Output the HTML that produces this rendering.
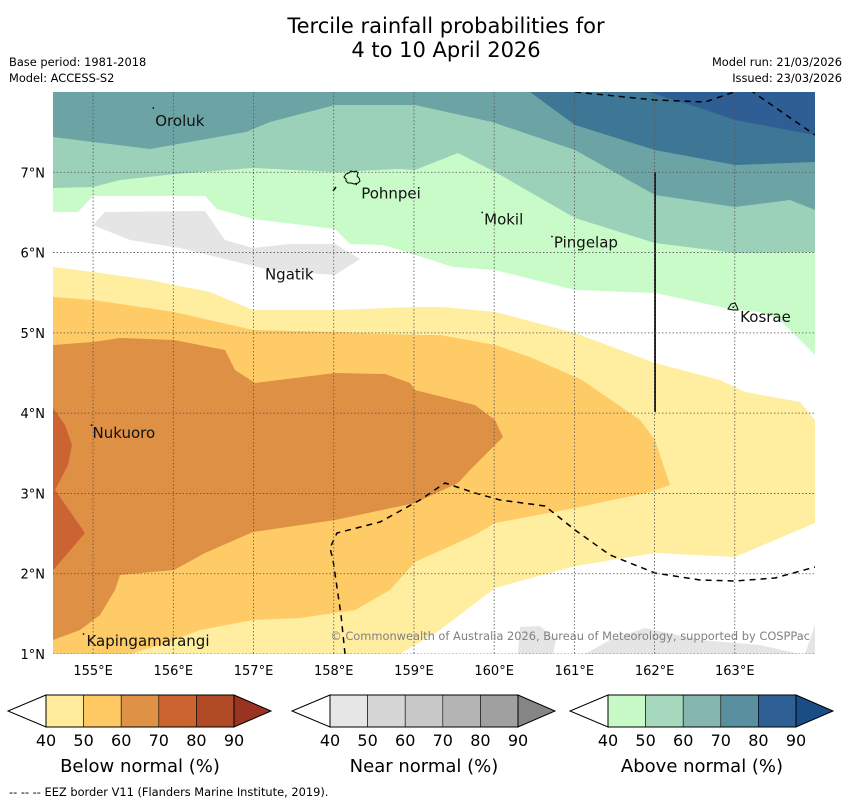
<!DOCTYPE html>
<html><head><meta charset="utf-8"><style>
html,body{margin:0;padding:0;background:#fff;}
body{width:850px;height:804px;overflow:hidden;font-family:"Liberation Sans","DejaVu Sans",sans-serif;}
text{font-family:"DejaVu Sans","Liberation Sans",sans-serif;}
</style></head><body>
<svg id="chart" width="850" height="804" viewBox="0 0 850 804" xmlns="http://www.w3.org/2000/svg">
<text x="446" y="33" font-size="21" text-anchor="middle" fill="#000">Tercile rainfall probabilities for</text>
<text x="446" y="57" font-size="21" text-anchor="middle" fill="#000">4 to 10 April 2026</text>
<text x="9" y="66" font-size="11.4">Base period: 1981-2018</text>
<text x="9" y="82" font-size="11.4">Model: ACCESS-S2</text>
<text x="842" y="66" font-size="11.4" text-anchor="end">Model run: 21/03/2026</text>
<text x="842" y="82" font-size="11.4" text-anchor="end">Issued: 23/03/2026</text>
<defs><clipPath id="mapclip"><rect x="53" y="92" width="762" height="562"/></clipPath></defs>
<g id="map" clip-path="url(#mapclip)"></g>
<g id="overlay"></g>
<g id="legend"></g>
<text x="9" y="796" font-size="11.4">--  --  -- EEZ border V11 (Flanders Marine Institute, 2019).</text>
</svg>
<script>
// axis data
const lonTicks = [155,156,157,158,159,160,161,162,163];
const latTicks = [7,6,5,4,3,2,1];
const lonMin = 154.5, lonMax = 164.0, latMin = 1.0, latMax = 8.0;
const legendTicks = [40,50,60,70,80,90];
const belowColors = ["#ffeb9b","#fec863","#df9146","#cc6431","#b04a25"];
const nearColors = ["#e6e6e6","#d6d6d6","#c8c8c8","#b4b4b4","#a0a0a0"];
const aboveColors = ["#c8fac8","#a6d8bd","#85b6b0","#5a8fa0","#2f6095"];
const islands = [
 {name:"Oroluk",lon:155.75,lat:7.8,dx:2,dy:18},
 {name:"Pohnpei",lon:158.28,lat:6.85,dx:5,dy:14},
 {name:"Mokil",lon:159.85,lat:6.5,dx:2,dy:12},
 {name:"Pingelap",lon:160.72,lat:6.2,dx:2,dy:11},
 {name:"Ngatik",lon:157.18,lat:5.8,dx:-3,dy:11},
 {name:"Kosrae",lon:162.98,lat:5.32,dx:7,dy:15},
 {name:"Nukuoro",lon:154.98,lat:3.85,dx:1,dy:13},
 {name:"Kapingamarangi",lon:154.88,lat:1.25,dx:3,dy:12}
];
const X0=53, X1=815, Y0=92, Y1=654;
function x(lon){return X0+(lon-lonMin)/(lonMax-lonMin)*(X1-X0);}
function y(lat){return Y0+(latMax-lat)/(latMax-latMin)*(Y1-Y0);}
const NS="http://www.w3.org/2000/svg";
function mk(tag,attrs,parent){const e=document.createElementNS(NS,tag);for(const k in attrs)e.setAttribute(k,attrs[k]);parent.appendChild(e);return e;}
const map=document.getElementById('map'), ov=document.getElementById('overlay'), lg=document.getElementById('legend');

// contour regions (map pixel outlines)
const regions=[
 ["above-40","#c9fbc9","53,92 815,92 815,355 780,320 760,312 735,310 655,293 575,290 495,270 453,267 400,250 383,245 350,244 335,229 253,219 217,209 205,196 93,196 78,212 53,212"],
 ["above-50","#9cd1b9","53,92 815,92 815,252 735,253 655,243 575,218 495,172 458,153 415,170 400,169 335,172 253,168 176,174 120,180 93,187 53,188"],
 ["above-60","#6ca3a5","53,92 815,92 815,210 790,200 735,207 655,195 575,150 492,122 415,105 335,105 270,122 246,132 150,149 93,142 53,137"],
 ["above-70","#3d7795","530,92 815,92 815,162 735,165 655,150 575,125"],
 ["above-80","#2e5e94","648,92 815,92 815,135 735,120 700,108"],
 ["near-40","#e5e5e5","93,225 105,212 205,211 225,240 253,248 290,244 335,244 360,259 335,275 270,270 180,248 130,240"],
 ["near-40-s1","#e5e5e5","518,654 520,627 540,626 556,640 553,654"],
 ["near-40-s2","#e5e5e5","585,654 610,640 645,628 700,640 760,645 800,654"],
 ["near-40-s3","#e5e5e5","805,654 815,625 815,654"],
 ["below-40","#ffeda0","53,267 93,272 150,280 174,285 210,292 253,310 335,310 415,307 443,307 495,312 575,333 655,363 720,380 745,392 800,402 815,420 815,523 775,540 735,557 655,553 575,566 495,588 440,630 400,654 53,654"],
 ["below-50","#fecb66","53,297 93,300 174,312 253,330 335,332 415,335 440,335 495,345 530,357 582,380 640,420 655,440 665,470 670,485 650,492 575,508 495,523 475,535 415,562 390,590 355,610 300,618 253,620 200,630 160,645 130,654 53,654"],
 ["below-60","#de9044","53,345 93,342 120,338 174,340 225,350 235,370 255,383 335,373 385,374 410,383 415,390 475,405 495,420 503,437 492,448 470,470 458,483 415,503 335,520 253,532 205,553 174,570 120,575 115,590 100,615 80,630 53,640"],
 ["below-70","#cb6332","53,408 65,425 72,445 68,465 55,490 85,533 55,568 53,570"]
];
regions.forEach(r=>{
 const p=mk('polygon',{points:r[2],fill:r[1]},map);
 
 
});
// EEZ lines
const eez=[
 "575,92 655,100 705,102 740,90",
 "750,90 815,135",
 "345,654 341,615 333,560 330,548 337,533 380,522 420,500 445,483 475,493 500,500 545,506 575,530 610,555 655,573 700,580 735,581 775,578 815,567",
 "333,191 336,187"
];
eez.forEach((d,i)=>{
 const e=mk('polyline',{points:d,fill:'none',stroke:'#000','stroke-width':1.5,'stroke-dasharray':'6,5'},map);
 
 
});
// vertical line
const vl=mk('line',{x1:655,y1:172,x2:655,y2:412,stroke:'#222','stroke-width':2},map);


// gridlines
lonTicks.forEach(l=>{
 const g=mk('line',{x1:x(l),y1:Y0,x2:x(l),y2:Y1,stroke:'#555','stroke-width':0.8,'stroke-dasharray':'1.5,2'},map);
 
 
 const t=mk('text',{x:x(l),y:675,'font-size':13,'text-anchor':'middle'},ov);t.textContent=l+"°E";
 
 
});
latTicks.forEach(l=>{
 const g=mk('line',{x1:X0,y1:y(l),x2:X1,y2:y(l),stroke:'#555','stroke-width':0.8,'stroke-dasharray':'1.5,2'},map);
 
 
 const t=mk('text',{x:45,y:y(l)+5,'font-size':13,'text-anchor':'end'},ov);t.textContent=l+"°N";
 
 
});
// island outlines
const poh=mk('path',{d:"M344,177 l2,-3 l3,-1 l2,-2 l3,1 l2,-1 l2,2 l-1,3 l2,2 l1,3 l-2,2 l-4,1 l-3,-1 l-3,0 l-2,-2 l0,-2z",fill:'none',stroke:'#000','stroke-width':1},map);


const kos=mk('path',{d:"M728,309 l3,-5 l4,-1 l2,4 l1,3 l-5,0z",fill:'none',stroke:'#000','stroke-width':1},map);


islands.forEach(is=>{
 const d=mk('rect',{x:x(is.lon)-0.7,y:y(is.lat)-0.7,width:1.5,height:1.5,fill:'#000'},ov);
 
 
 const t=mk('text',{x:x(is.lon)+is.dx,y:y(is.lat)+is.dy,'font-size':15,fill:'#111'},ov);t.textContent=is.name;
 
 
});
const cp=mk('text',{x:810,y:640,'font-size':11.4,fill:'#808080','text-anchor':'end'},ov);
cp.textContent="© Commonwealth of Australia 2026, Bureau of Meteorology, supported by COSPPac";


// legends
const bars=[
 {name:"below",colors:belowColors,tip:"#993322",left:46,title:"Below normal (%)"},
 {name:"near",colors:nearColors,tip:"#858585",left:330,title:"Near normal (%)"},
 {name:"above",colors:aboveColors,tip:"#1a4d85",left:608,title:"Above normal (%)"}
];
const seg=37.6, by0=695, by1=727, bm=711;
bars.forEach(b=>{
 const g=mk('g',{},lg);
 
 
 const L=b.left, R=L+seg*b.colors.length;
 mk('polygon',{points:`${L},${by0} ${L-38},${bm} ${L},${by1}`,fill:'#fff',stroke:'#000','stroke-width':1},g);
 b.colors.forEach((c,i)=>{mk('rect',{x:L+i*seg,y:by0,width:seg,height:by1-by0,fill:c,stroke:'#000','stroke-width':0.6},g);});
 mk('polygon',{points:`${R},${by0} ${R+37},${bm} ${R},${by1}`,fill:b.tip,stroke:'#000','stroke-width':1},g);
 mk('rect',{x:L,y:by0,width:R-L,height:by1-by0,fill:'none',stroke:'#000','stroke-width':1},g);
 legendTicks.forEach((v,i)=>{const t=mk('text',{x:L+i*seg,y:746,'font-size':16,'text-anchor':'middle'},g);t.textContent=v;});
 const tt=mk('text',{x:(L+R)/2,y:772,'font-size':18,'text-anchor':'middle'},g);tt.textContent=b.title;
});
</script>
</body></html>
